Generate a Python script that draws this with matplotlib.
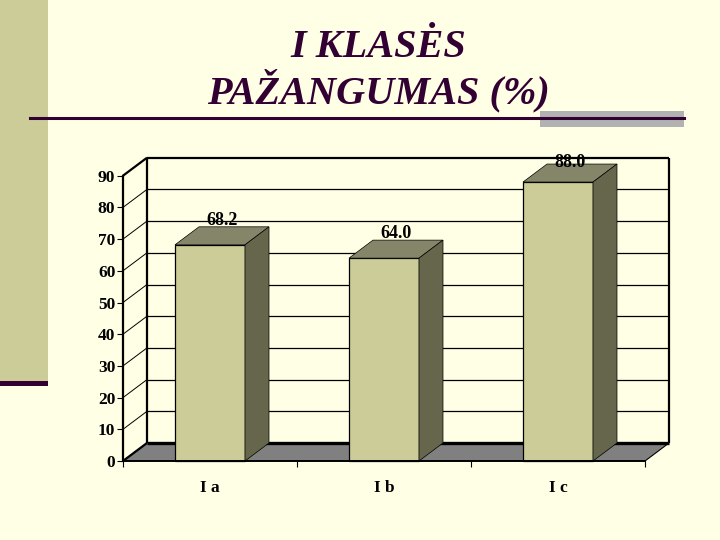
import matplotlib
matplotlib.use("Agg")
import matplotlib.pyplot as plt
from matplotlib.patches import Polygon, Rectangle
from matplotlib.lines import Line2D

title = "I KLASĖS\nPAŽANGUMAS (%)"
categories = ["I a", "I b", "I c"]
values = [68.2, 64.0, 88.0]
y_ticks = [0, 10, 20, 30, 40, 50, 60, 70, 80, 90]

BG = "#FFFFE5"
DARK = "#330033"
FRONT = "#CCCC99"
TOP = "#85856A"
SIDE = "#66664C"
FLOOR = "#808080"

W, H = 720, 540
plt.rcParams["font.family"] = ["Liberation Serif", "DejaVu Serif"]
fig = plt.figure(figsize=(7.2, 5.4), dpi=100, facecolor=BG)


def px_rect(x0, y0, x1, y1, color, z=1):
    fig.add_artist(Rectangle((x0 / W, 1 - y1 / H), (x1 - x0) / W, (y1 - y0) / H,
                             transform=fig.transFigure, facecolor=color,
                             edgecolor="none", zorder=z))


# slide decoration
px_rect(0, 0, 48, 381, "#CCCC99")
px_rect(0, 381, 48, 386, DARK)
px_rect(540, 111, 684, 127, "#B2B2B2")
fig.add_artist(Line2D([30 / W, 684 / W], [1 - 117.5 / H] * 2, color=DARK, lw=2.2,
                      transform=fig.transFigure, zorder=2))
fig.text(378 / W, 1 - 70.5 / H, title, ha="center", va="center", fontsize=29,
         fontweight="bold", fontstyle="italic", color=DARK, linespacing=1.08, zorder=3)

# chart: the axes rectangle is the front plane of the 3D box
ax = fig.add_axes([123 / W, 1 - 461 / H, 522 / W, 285.3 / H])
ax.set_xlim(-0.5, 2.5)
ax.set_ylim(0, 90)
ax.patch.set_visible(False)
for s in ("top", "right"):
    ax.spines[s].set_visible(False)
ax.spines["left"].set_linewidth(1.6)
ax.spines["bottom"].set_linewidth(1.4)
ax.spines["left"].set_zorder(6)
ax.spines["bottom"].set_zorder(6)

DX = 24 / 174      # depth offset, category units
DY = 18 / 3.17     # depth offset, value units
BAR = 70 / 174     # bar width, category units
x0, x1 = -0.5, 2.5
ymax = y_ticks[-1]


def poly(pts, color, z, edge="none", lw=0):
    ax.add_patch(Polygon(pts, closed=True, facecolor=color, edgecolor=edge, lw=lw,
                         zorder=z, clip_on=False))


def line(xs, ys, lw=0.9, z=2):
    ax.add_line(Line2D(xs, ys, color="black", lw=lw, zorder=z, clip_on=False,
                       solid_capstyle="butt"))


# floor
poly([(x0, 0), (x1, 0), (x1 + DX, DY), (x0 + DX, DY)], FLOOR, 1)
line([x1, x1 + DX], [0, DY], 0.8)

# walls and gridlines
for v in y_ticks:
    if v > 0:
        line([x0 + DX, x1 + DX], [v + DY, v + DY], 1.6 if v == ymax else 0.9)
    line([x0, x0 + DX], [v, v + DY], 1.6 if v in (0, ymax) else 0.7)
line([x0 + DX, x0 + DX], [DY, ymax + DY], 1.6, 3)
line([x1 + DX, x1 + DX], [DY, ymax + DY], 1.6, 3)
line([x0 + DX, x1 + DX], [DY, DY], 2.4, 3)

# bars
label_gaps = [-2, -2, -7]  # px relative to the bar's back top edge
for i, (v, gap) in enumerate(zip(values, label_gaps)):
    l, r = i - 0.5 * BAR, i + 0.5 * BAR
    poly([(l, 0), (r, 0), (r, v), (l, v)], FRONT, 4, "black", 0.9)
    poly([(l, v), (r, v), (r + DX, v + DY), (l + DX, v + DY)], TOP, 4, "black", 0.5)
    poly([(r, 0), (r + DX, DY), (r + DX, v + DY), (r, v)], SIDE, 4, "black", 0.5)
    ax.annotate(f"{v:.1f}", xy=(i + DX / 2, v + DY), xytext=(0, gap),
                textcoords="offset pixels", ha="center", va="bottom", fontsize=13,
                fontweight="bold", color="black", zorder=7, annotation_clip=False)

# axes ticks
ax.set_yticks(y_ticks)
ax.set_yticklabels([str(v) for v in y_ticks], fontsize=12.5, fontweight="bold")
ax.set_xticks(range(len(categories)))
ax.set_xticklabels(categories, fontsize=12.5, fontweight="bold")
ax.set_xticks([-0.5, 0.5, 1.5, 2.5], minor=True)
ax.tick_params(axis="y", length=4, width=0.8, pad=1.5)
ax.tick_params(axis="x", which="major", length=0, pad=14)
ax.tick_params(axis="x", which="minor", length=4, width=0.8)

fig.savefig("out.png", dpi=100, facecolor=BG)
